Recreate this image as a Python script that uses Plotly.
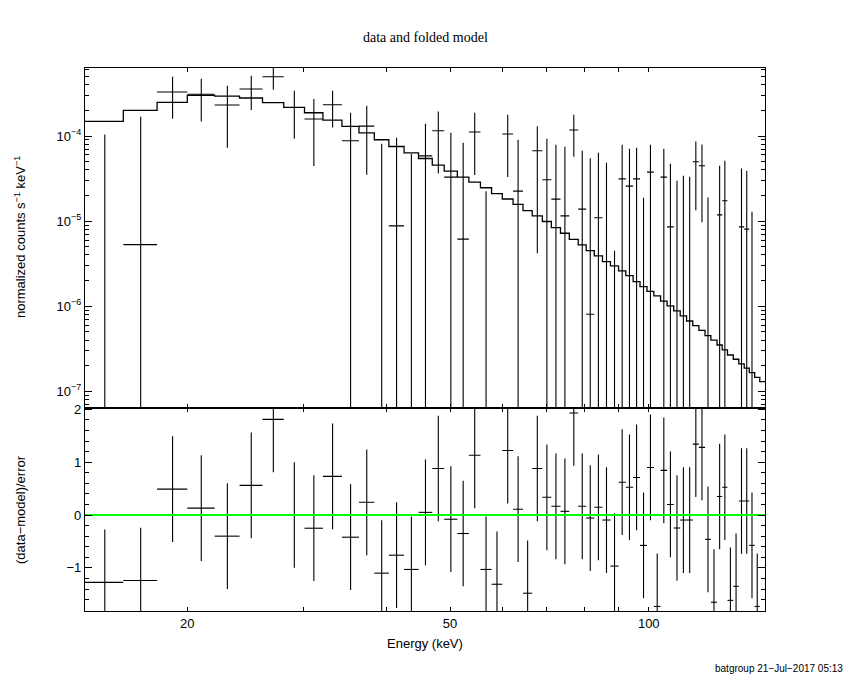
import plotly.graph_objects as go

# ---- data ----
edges_kev = [14.0, 16.0, 18.0, 20.0, 22.0, 24.0, 26.0, 28.0, 30.1, 32.1, 34.3, 36.4, 38.4, 40.4,
             42.6, 44.8, 47.0, 49.0, 51.3, 53.4, 55.6, 57.8, 60.0, 62.3, 64.5, 66.6, 69.0, 71.2,
             73.5, 75.8, 78.2, 80.4, 82.7, 85.1, 87.5, 90.0, 92.3, 94.7, 97.0, 99.4, 101.8, 104.2,
             106.6, 109.1, 111.6, 114.1, 116.6, 119.1, 121.7, 124.2, 126.9, 129.2, 131.6, 134.3,
             136.9, 139.5, 142.0, 144.7, 147.3, 150.0]

model_rate = [1.49e-4, 2.0e-4, 2.49e-4, 3.0e-4, 2.94e-4, 2.80e-4, 2.47e-4, 2.17e-4, 1.88e-4, 1.54e-4,
              1.30e-4, 1.09e-4, 9.05e-5, 7.54e-5, 6.36e-5, 5.45e-5, 4.56e-5, 3.88e-5, 3.29e-5, 2.88e-5,
              2.47e-5, 2.11e-5, 1.82e-5, 1.57e-5, 1.33e-5, 1.15e-5, 9.9e-6, 8.4e-6, 7.2e-6, 6.1e-6,
              5.26e-6, 4.51e-6, 3.91e-6, 3.35e-6, 2.98e-6, 2.60e-6, 2.29e-6, 1.95e-6, 1.70e-6, 1.49e-6,
              1.32e-6, 1.15e-6, 1.01e-6, 8.8e-7, 7.7e-7, 6.7e-7, 5.9e-7, 5.2e-7, 4.5e-7, 4.0e-7,
              3.5e-7, 3.06e-7, 2.67e-7, 2.38e-7, 2.1e-7, 1.87e-7, 1.66e-7, 1.46e-7, 1.30e-7]

data_rate = [-6.0e-5, 5.3e-6, 3.29e-4, 3.1e-4, 2.32e-4, 3.57e-4, 4.98e-4, 2.17e-4, 1.585e-4, 2.335e-4,
             8.8e-5, 1.31e-4, -1.2e-5, 8.8e-6, -1.85e-5, 5.85e-5, 1.154e-4, 3.29e-5, 6.14e-6, 1.114e-4,
             -5.26e-5, -7.45e-5, 1.056e-4, 2.25e-5, -9.0e-5, 6.72e-5, 3.06e-5, 1.815e-5, 1.154e-5, 1.177e-4,
             1.384e-5, 8.05e-7, 1.094e-5, -1.39e-6, -3.95e-5, 3.14e-5, 2.58e-5, 3.14e-5, -2.14e-5, 3.77e-5,
             -6.8e-5, 3.29e-5, 8.57e-6, -8.6e-6, -2.73e-6, -2.75e-6, 4.99e-5, 4.47e-5, -1.53e-5, -5.57e-5,
             1.186e-5, 1.733e-5, -5.3e-5, -4.43e-5, 8.57e-6, 8.05e-6, -1.7e-5, -5.18e-5, -9.0e-5]

data_err = [1.64e-4, 1.63e-4, 1.69e-4, 1.62e-4, 1.59e-4, 1.55e-4, 1.48e-4, 1.24e-4, 1.14e-4, 1.075e-4,
            1.0e-4, 9.6e-5, 9.3e-5, 8.67e-5, 8.0e-5, 8.1e-5, 7.9e-5, 7.65e-5, 7.73e-5, 7.66e-5,
            7.5e-5, 7.3e-5, 7.25e-5, 6.8e-5, 7.0e-5, 6.3e-5, 6.23e-5, 6.08e-5, 6.33e-5, 6.04e-5,
            5.33e-5, 5.4e-5, 5.27e-5, 4.99e-5, 4.4e-5, 4.76e-5, 4.51e-5, 4.14e-5, 4.02e-5, 4.13e-5,
            4.0e-5, 3.8e-5, 3.86e-5, 3.84e-5, 3.68e-5, 3.6e-5, 3.65e-5, 3.5e-5, 3.42e-5, 3.4e-5,
            3.28e-5, 3.39e-5, 3.3e-5, 3.3e-5, 3.3e-5, 3.1e-5, 2.99e-5, 3.0e-5, 3.0e-5]

residual = [-1.275, -1.24, 0.49, 0.13, -0.40, 0.56, 1.81, 0.0, -0.25, 0.73,
            -0.42, 0.24, -1.10, -0.76, -1.03, 0.05, 0.88, -0.08, -0.35, 1.13,
            -1.03, -1.31, 1.22, 0.11, -1.48, 0.88, 0.335, 0.165, 0.07, 1.93,
            0.165, -0.057, 0.146, -0.095, -0.966, 0.62, 0.525, 0.71, -0.575, 0.90,
            -1.73, 0.845, 0.20, -0.246, -0.095, -0.095, 1.34, 1.28, -0.46, -1.65,
            0.35, 0.525, -1.615, -1.35, 0.265, 0.265, -0.575, -1.73, -3.0]

x_tick_vals = [20, 50, 100]
x_tick_text = ["20", "50", "100"]
y_top_tick_vals = [1e-7, 1e-6, 1e-5, 1e-4]
y_top_tick_text = ["10<sup>\u22127</sup>", "10<sup>\u22126</sup>", "10<sup>\u22125</sup>", "10<sup>\u22124</sup>"]
y_bot_tick_vals = [-1, 0, 1, 2]
y_bot_tick_text = ["\u22121", "0", "1", "2"]

# ---- build geometry through the data ----
lo = edges_kev[:-1]
hi = edges_kev[1:]
cen = [(a + b) / 2 for a, b in zip(lo, hi)]

tx, ty = [], []
for a, b, c, d, e in zip(lo, hi, cen, data_rate, data_err):
    if d > 0:
        tx += [a, b, None]
        ty += [d, d, None]
    if d + e > 0:
        tx += [c, c, None]
        ty += [max(d - e, 1e-12), d + e, None]

bx, by = [], []
for a, b, c, r in zip(lo, hi, cen, residual):
    bx += [a, b, None, c, c, None]
    by += [r, r, None, r - 1, r + 1, None]

BLACK = "#000000"
fig = go.Figure()
fig.add_trace(go.Scatter(x=edges_kev, y=model_rate + [model_rate[-1]], mode="lines",
                         line=dict(color=BLACK, width=1.3, shape="hv"),
                         xaxis="x2", yaxis="y2", hoverinfo="skip", showlegend=False))
fig.add_trace(go.Scatter(x=tx, y=ty, mode="lines", line=dict(color=BLACK, width=1.1),
                         xaxis="x2", yaxis="y2", hoverinfo="skip", showlegend=False))
fig.add_trace(go.Scatter(x=bx, y=by, mode="lines", line=dict(color=BLACK, width=1.1),
                         xaxis="x", yaxis="y", hoverinfo="skip", showlegend=False))
fig.add_trace(go.Scatter(x=[edges_kev[0], edges_kev[-1]], y=[0, 0], mode="lines",
                         line=dict(color="#00ff00", width=2),
                         xaxis="x", yaxis="y", hoverinfo="skip", showlegend=False))

split = 0.3744
xminor = [30, 40, 60, 70, 80, 90]
ytop_minor = [k * 10 ** p for p in (-8, -7, -6, -5, -4) for k in range(2, 10)]
ybot_minor = [round(-1.8 + 0.2 * i, 1) for i in range(20)]

common = dict(showline=True, linecolor=BLACK, linewidth=1.2, mirror="allticks",
              ticks="inside", tickcolor=BLACK, showgrid=False, zeroline=False)
fnt = "Liberation Sans"
fig.update_layout(
    width=850, height=680,
    margin=dict(l=85, r=85, t=68, b=69),
    paper_bgcolor="white", plot_bgcolor="white",
    font=dict(family=fnt, size=13, color=BLACK),
    xaxis=dict(type="log", range=[1.1461, 2.1761], domain=[0, 1], anchor="y",
               tickvals=x_tick_vals, ticktext=x_tick_text, ticklen=4, tickwidth=1.2,
               minor=dict(tickvals=xminor, ticklen=4, ticks="inside", tickcolor=BLACK),
               tickfont=dict(size=13), **common),
    xaxis2=dict(type="log", range=[1.1461, 2.1761], domain=[0, 1], anchor="y2", matches="x",
                tickvals=x_tick_vals, ticktext=["", "", ""], ticklen=4, tickwidth=1.2,
                minor=dict(tickvals=xminor, ticklen=4, ticks="inside", tickcolor=BLACK),
                showticklabels=False, **common),
    yaxis=dict(domain=[0, split], anchor="x", range=[-1.816, 2.03],
               tickvals=y_bot_tick_vals, ticktext=y_bot_tick_text, ticklen=7, tickwidth=1.2,
               minor=dict(tickvals=ybot_minor, ticklen=3.5, ticks="inside", tickcolor=BLACK),
               tickfont=dict(size=13), **common),
    yaxis2=dict(type="log", domain=[split, 1], anchor="x2", range=[-7.193, -3.2],
                tickvals=y_top_tick_vals, ticktext=y_top_tick_text, ticklen=7, tickwidth=1.2,
                minor=dict(tickvals=ytop_minor, ticklen=3.5, ticks="inside", tickcolor=BLACK),
                tickfont=dict(size=13), **common),
    annotations=[
        dict(text="data and folded model", x=0.5, y=1 + (68 - 38) / 543, xref="paper", yref="paper",
             xanchor="center", yanchor="middle",
             showarrow=False, font=dict(family="Liberation Serif", size=14)),
        dict(text="Energy (keV)", x=0.5, y=-(643 - 611) / 543, xref="paper", yref="paper",
             showarrow=False, yanchor="middle", font=dict(size=13)),
        dict(text="normalized counts s<sup>\u22121</sup> keV<sup>\u22121</sup>", textangle=-90,
             x=-(85 - 20) / 680, y=(611 - 237) / 543, xref="paper", yref="paper", showarrow=False,
             xanchor="center", yanchor="middle", font=dict(size=13)),
        dict(text="(data\u2212model)/error", textangle=-90,
             x=-(85 - 20) / 680, y=(611 - 510) / 543, xref="paper", yref="paper", showarrow=False,
             xanchor="center", yanchor="middle", font=dict(size=13)),
        dict(text="batgroup 21\u2212Jul\u22122017 05:13", x=(845 - 85) / 680, y=-(668 - 611) / 543,
             xref="paper", yref="paper", showarrow=False, xanchor="right", yanchor="middle",
             font=dict(size=10)),
    ],
)

fig.write_html("out.html", config={"displayModeBar": False},
               post_script="document.body.style.margin='0';document.body.style.overflow='hidden';")
